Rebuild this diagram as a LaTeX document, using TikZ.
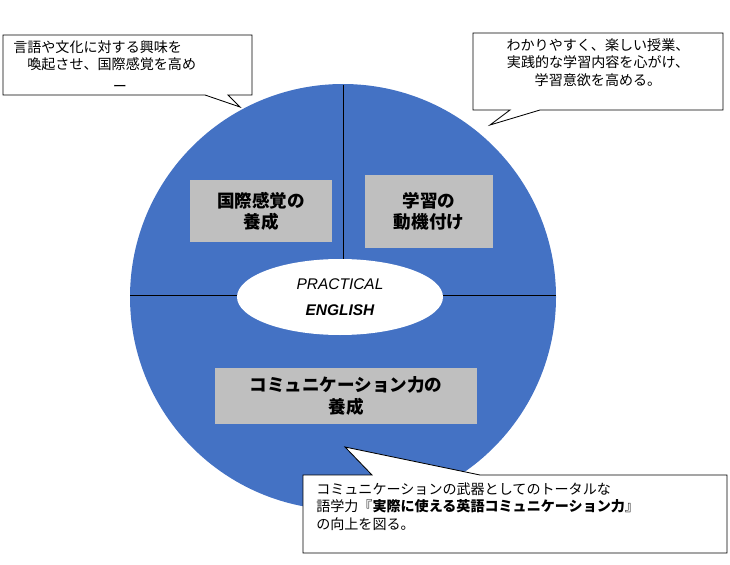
\documentclass[tikz,border=0pt]{standalone}
\usepackage{fontspec}
\setmainfont{Liberation Sans}
\newfontfamily\jp{Noto Sans CJK JP}
\usetikzlibrary{positioning}
\definecolor{wheelblue}{RGB}{68,114,196}
\definecolor{boxgray}{RGB}{191,191,191}
\tikzset{
  graybox/.style={fill=boxgray, font=\jp\bfseries\fontsize{12.5}{15}\selectfont, align=center, inner sep=0pt},
  calltext/.style={font=\jp\fontsize{10}{12.5}\selectfont, align=left, anchor=north west, inner sep=0pt},
  callout/.style={draw=black, fill=white, line width=0.6pt}
}
\begin{document}
\begin{tikzpicture}[x=0.025cm, y=-0.025cm]
\useasboundingbox (0,0) rectangle (730,565);
% wheel
\fill[wheelblue] (343,297) circle [radius=213];
\draw[black, line width=0.6pt] (343,85) -- (343,297);
\draw[black, line width=0.6pt] (130,295) -- (556,295);
\fill[white] (340,297) ellipse [x radius=103, y radius=38];
\node (practical) at (340,284) {\itshape\fontsize{11}{13}\selectfont PRACTICAL};
\node (english) at (340,310) {\bfseries\itshape\fontsize{11}{13}\selectfont ENGLISH};
% segments
\fill[boxgray] (190,180) rectangle (332,242);
\node[graybox] (kokusai) at (261,211) {国際感覚の\\養成};
\fill[boxgray] (365,175) rectangle (493,248);
\node[graybox] (gakushu) at (429,211) {学習の\\動機付け};
\fill[boxgray] (215,368) rectangle (477,424);
\node[graybox] (comm) at (346,396) {コミュニケーション力の\\養成};
% callouts
\draw[callout] (3,35) -- (252,35) -- (252,95) -- (228,95) -- (240,107) -- (205,95) -- (3,95) -- cycle;
\node[calltext] (note1) at (13,40) {言語や文化に対する興味を\\\hspace{1em}喚起させ、国際感覚を高め};
\node (cut1) at (120,88) {\jp\fontsize{10}{12}\selectfont ー};
\draw[callout] (473,33) -- (723,33) -- (723,110) -- (540,110) -- (490,125) -- (510,110) -- (473,110) -- cycle;
\node[calltext, align=center, anchor=north] (note2) at (598,38) {わかりやすく、楽しい授業、\\実践的な学習内容を心がけ、\\学習意欲を高める。};
\draw[callout] (303,475) -- (372,475) -- (345,447) -- (480,475) -- (727,475) -- (727,553) -- (303,553) -- cycle;
\node[calltext] (note3) at (316,482) {コミュニケーションの武器としてのトータルな\\語学力『\textbf{実際に使える英語コミュニケーション力}』\\の向上を図る。};
\end{tikzpicture}
\end{document}
